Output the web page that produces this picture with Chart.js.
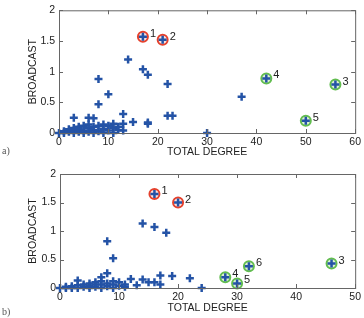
<!DOCTYPE html>
<html>
<head>
<meta charset="utf-8">
<script src="https://cdn.jsdelivr.net/npm/chart.js@4.4.1/dist/chart.umd.min.js"></script>
<style>
    body { margin: 0; background: #fff; }
    #wrap { position: relative; width: 364px; height: 318px; overflow: hidden; }
    canvas { position: absolute; left: 0; }
    .tag { position: absolute; left: 2px; font: 10px "Liberation Serif", serif; color: #555; }
</style>
</head>
<body>
<div id="wrap">
    <canvas id="chartA" width="364" height="160" style="top:0"></canvas>
    <canvas id="chartB" width="364" height="158" style="top:160px"></canvas>
    <div class="tag" style="top:145px">a)</div>
    <div class="tag" style="top:306px">b)</div>
</div>
<script>
// ---- panel a) ----
var degreeA = [0, 1, 1, 2, 2, 3, 3, 3, 4, 4, 4, 5, 5, 5, 6, 6, 6, 7, 7, 7, 8, 8, 9, 9, 9, 10, 10, 11, 11, 11, 12, 12, 13, 13, 13,
    3, 6, 7, 8, 8, 10, 14, 17, 18, 22, 15, 18, 18, 22, 23, 30, 37,
    17, 21, 56, 42, 50];
var broadcastA = [0, 0, 0.03, 0.02, 0.06, 0, 0.08, 0.04, 0.02, 0.1, 0.06, 0, 0.04, 0.12, 0.02, 0.08, 0.14, 0, 0.05, 0.1, 0.03, 0.12, 0, 0.07, 0.14, 0.04, 0.12, 0.08, 0.15, 0, 0.1, 0.05, 0.04, 0.15, 0.31,
    0.25, 0.25, 0.24, 0.47, 0.88, 0.63, 1.2, 1.04, 0.95, 0.8, 0.18, 0.17, 0.15, 0.28, 0.28, 0, 0.59,
    1.57, 1.52, 0.79, 0.89, 0.2];
var redDegreeA = [17, 21];
var redBroadcastA = [1.57, 1.52];
var redNamesA = ['1', '2'];
var greenDegreeA = [56, 42, 50];
var greenBroadcastA = [0.79, 0.89, 0.2];
var greenNamesA = ['3', '4', '5'];

// ---- panel b) ----
var degreeB = [0, 1, 1, 2, 2, 3, 3, 4, 4, 5, 5, 5, 6, 6, 6, 7, 7, 7, 8, 8, 9, 9, 9, 10, 10, 11, 11,
    3, 7, 8, 8, 9, 12, 13, 14, 14, 15, 16, 16, 17, 17, 18, 19, 22, 24,
    16, 20, 46, 28, 30, 32];
var broadcastB = [0, 0, 0.02, 0.03, 0, 0.05, 0, 0.02, 0.06, 0, 0.04, 0.08, 0.02, 0.1, 0.06, 0, 0.06, 0.12, 0.03, 0.08, 0, 0.06, 0.12, 0.04, 0.1, 0.06, 0.02,
    0.13, 0.19, 0.26, 0.82, 0.52, 0.16, 0.05, 0.15, 1.13, 0.1, 0.1, 1.07, 0.22, 0.06, 0.97, 0.21, 0.17, 0,
    1.65, 1.5, 0.43, 0.19, 0.08, 0.38];
var redDegreeB = [16, 20];
var redBroadcastB = [1.65, 1.5];
var redNamesB = ['1', '2'];
var greenDegreeB = [46, 28, 30, 32];
var greenBroadcastB = [0.43, 0.19, 0.08, 0.38];
var greenNamesB = ['3', '4', '5', '6'];

var yTicks = [0, 0.5, 1, 1.5, 2];

function toPoints(xs, ys) {
    var pts = [];
    for (var i = 0; i < xs.length; i++) pts.push({ x: xs[i], y: ys[i] });
    return pts;
}

// box around the plot with inward ticks, matlab style
var boxPlugin = {
    id: 'box',
    afterDraw: function (chart) {
        var ctx = chart.ctx, a = chart.chartArea;
        var xs = chart.scales.x, ys = chart.scales.y;
        ctx.save();
        ctx.strokeStyle = '#666';
        ctx.lineWidth = 1;
        ctx.strokeRect(a.left + 0.5, a.top + 0.5, a.right - a.left, a.bottom - a.top);
        ctx.beginPath();
        xs.ticks.forEach(function (t) {
            var px = Math.round(xs.getPixelForValue(t.value)) + 0.5;
            ctx.moveTo(px, a.bottom); ctx.lineTo(px, a.bottom - 4);
            ctx.moveTo(px, a.top); ctx.lineTo(px, a.top + 4);
        });
        ys.ticks.forEach(function (t) {
            var py = Math.round(ys.getPixelForValue(t.value)) + 0.5;
            ctx.moveTo(a.left, py); ctx.lineTo(a.left + 4, py);
            ctx.moveTo(a.right, py); ctx.lineTo(a.right - 4, py);
        });
        ctx.stroke();
        ctx.restore();
    }
};

// node numbers next to the circled points
var namePlugin = {
    id: 'names',
    afterDatasetsDraw: function (chart) {
        var ctx = chart.ctx;
        ctx.save();
        ctx.font = '11px "Liberation Sans", Arial, sans-serif';
        ctx.fillStyle = '#222';
        ctx.textBaseline = 'middle';
        chart.data.datasets.forEach(function (ds, i) {
            if (!ds.names) return;
            chart.getDatasetMeta(i).data.forEach(function (el, j) {
                ctx.fillText(ds.names[j], el.x + 7, el.y - 3);
            });
        });
        ctx.restore();
    }
};

function makeChart(id, blue, red, green, xMax, pad, axisH, yW) {
    var ctx = document.getElementById(id).getContext('2d');
    return new Chart(ctx, {
        type: 'scatter',
        data: {
            datasets: [
                {
                    data: blue,
                    pointStyle: 'cross', pointRadius: 4, pointBorderWidth: 2.5,
                    borderColor: '#2453a6', backgroundColor: '#2453a6',
                    clip: false, order: 1
                },
                {
                    data: red, names: red.names,
                    pointStyle: 'circle', pointRadius: 5, pointBorderWidth: 2,
                    borderColor: '#e5412d', backgroundColor: '#fbe3de',
                    clip: false, order: 2
                },
                {
                    data: green, names: green.names,
                    pointStyle: 'circle', pointRadius: 5, pointBorderWidth: 2,
                    borderColor: '#62bd4f', backgroundColor: '#dcf1d3',
                    clip: false, order: 3
                }
            ]
        },
        options: {
            responsive: false,
            animation: false,
            layout: { padding: pad },
            plugins: { legend: { display: false }, tooltip: { enabled: false } },
            scales: {
                x: {
                    type: 'linear', min: 0, max: xMax,
                    ticks: { stepSize: 10, padding: 3, color: '#222', font: { size: 10.5, family: '"Liberation Sans", Arial, sans-serif' } },
                    grid: { display: false, drawTicks: false },
                    border: { display: false },
                    title: { display: true, text: 'TOTAL DEGREE', color: '#222', padding: { top: 0, bottom: pad.titleB }, font: { size: 10.5, family: '"Liberation Sans", Arial, sans-serif' } },
                    afterFit: function (s) { s.height = axisH; }
                },
                y: {
                    type: 'linear', min: 0, max: 2,
                    afterBuildTicks: function (s) { s.ticks = yTicks.map(function (v) { return { value: v }; }); },
                    ticks: {
                        padding: 4, color: '#222', font: { size: 10.5, family: '"Liberation Sans", Arial, sans-serif' },
                        callback: function (v) { return String(v); }
                    },
                    grid: { display: false, drawTicks: false },
                    border: { display: false },
                    title: { display: true, text: 'BROADCAST', color: '#222', padding: { top: 27, bottom: 0 }, font: { size: 10.5, family: '"Liberation Sans", Arial, sans-serif' } },
                    afterFit: function (s) { s.width = yW; }
                }
            }
        },
        plugins: [boxPlugin, namePlugin]
    });
}

var redA = toPoints(redDegreeA, redBroadcastA); redA.names = redNamesA;
var greenA = toPoints(greenDegreeA, greenBroadcastA); greenA.names = greenNamesA;
var redB = toPoints(redDegreeB, redBroadcastB); redB.names = redNamesB;
var greenB = toPoints(greenDegreeB, greenBroadcastB); greenB.names = greenNamesB;

makeChart('chartA', toPoints(degreeA, broadcastA), redA, greenA, 60,
    { top: 9, right: 7, left: 0, bottom: 0, titleB: 2 }, 27, 59);
makeChart('chartB', toPoints(degreeB, broadcastB), redB, greenB, 50,
    { top: 14, right: 6, left: 0, bottom: 0, titleB: 4 }, 30, 60);
</script>
</body>
</html>
